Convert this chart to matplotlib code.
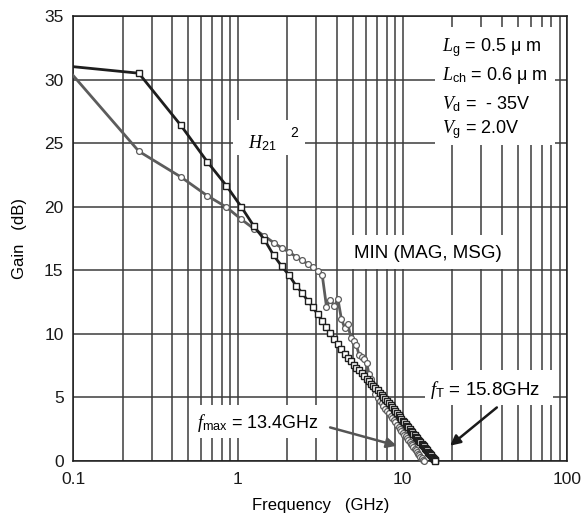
import matplotlib
matplotlib.use("Agg")
import matplotlib.pyplot as plt
from matplotlib.patches import Rectangle
from matplotlib.ticker import FixedLocator, NullFormatter

plt.rcParams['font.family'] = ['Liberation Sans', 'DejaVu Sans']
plt.rcParams['mathtext.fontset'] = 'custom'
plt.rcParams['mathtext.rm'] = 'Liberation Sans'
plt.rcParams['mathtext.it'] = 'Liberation Serif:italic'

# measured frequency points (GHz), 0.2 GHz step
freq = [0.05, 0.25, 0.45, 0.65, 0.85, 1.05, 1.25, 1.45, 1.65, 1.85,
        2.05, 2.25, 2.45, 2.65, 2.85, 3.05, 3.25, 3.45, 3.65, 3.85,
        4.05, 4.25, 4.45, 4.65, 4.85, 5.05, 5.25, 5.45, 5.65, 5.85,
        6.05, 6.25, 6.45, 6.65, 6.85, 7.05, 7.25, 7.45, 7.65, 7.85,
        8.05, 8.25, 8.45, 8.65, 8.85, 9.05, 9.25, 9.45, 9.65, 9.85,
        10.05, 10.25, 10.45, 10.65, 10.85, 11.05, 11.25, 11.45, 11.65, 11.85,
        12.05, 12.25, 12.45, 12.65, 12.85, 13.05, 13.25, 13.45, 13.65, 13.85,
        14.05, 14.25, 14.45, 14.65, 14.85, 15.05, 15.25, 15.45, 15.65, 15.85]

# |H21|^2 (dB)
gain_h21 = [31.4, 30.5, 26.4, 23.55, 21.66, 19.97, 18.47, 17.4, 16.17, 15.3,
            14.59, 13.8, 13.23, 12.62, 12.1, 11.54, 11.02, 10.52, 10.06, 9.62,
            9.20, 8.80, 8.42, 8.08, 7.83, 7.58, 7.35, 7.12, 6.90, 6.69,
            6.48, 6.29, 6.09, 5.91, 5.73, 5.55, 5.38, 5.22, 5.06, 4.90,
            4.75, 4.57, 4.40, 4.24, 4.08, 3.92, 3.77, 3.62, 3.47, 3.33,
            3.18, 3.05, 2.91, 2.78, 2.65, 2.52, 2.39, 2.27, 2.15, 2.03,
            1.91, 1.79, 1.68, 1.57, 1.46, 1.35, 1.24, 1.14, 1.03, 0.93,
            0.83, 0.73, 0.63, 0.53, 0.44, 0.34, 0.25, 0.16, 0.07, -0.02]

# MIN(MAG, MSG) (dB), stops at fmax
gain_min = [34.8, 24.36, 22.34, 20.87, 19.97, 19.0, 18.27, 17.69, 17.17, 16.74,
            16.43, 16.06, 15.77, 15.51, 15.22, 14.93, 14.65, 12.15, 12.67, 12.20,
            12.72, 11.18, 10.47, 10.78, 9.70, 9.40, 9.10, 8.30, 8.20, 8.00,
            7.72, 6.85, 6.45, 6.00, 5.30, 4.95, 4.74, 4.53, 4.32, 4.12,
            3.93, 3.74, 3.56, 3.38, 3.20, 3.03, 2.86, 2.70, 2.54, 2.38,
            2.22, 2.07, 1.93, 1.78, 1.64, 1.49, 1.36, 1.22, 1.09, 0.96,
            0.83, 0.70, 0.58, 0.46, 0.34, 0.22, 0.10, -0.02]
freq_min = freq[:len(gain_min)]

x_ticks = [0.1, 1, 10, 100]
x_tick_labels = ["0.1", "1", "10", "100"]
y_ticks = [0, 5, 10, 15, 20, 25, 30, 35]

fig = plt.figure(figsize=(5.87, 5.21), dpi=100)
ax = fig.add_axes([0.1249, 0.1152, 0.8413, 0.8541])
ax.set_xscale('log')
ax.set_xlim(0.1, 100)
ax.set_ylim(0, 35)

ax.set_xticks(x_ticks)
ax.set_xticklabels(x_tick_labels)
minor = [m * d for d in (0.1, 1, 10) for m in range(2, 10)]
ax.xaxis.set_minor_locator(FixedLocator(minor))
ax.xaxis.set_minor_formatter(NullFormatter())
ax.set_yticks(y_ticks)
ax.tick_params(axis='both', which='both', length=0, labelsize=12.5, colors='#1a1a1a')
ax.tick_params(axis='x', pad=8)
ax.tick_params(axis='y', pad=7)
ax.set_axisbelow(True)
ax.grid(True, which='both', color='#3c3c3c', linewidth=1.1)
for s in ax.spines.values():
    s.set_color('#1a1a1a')
    s.set_linewidth(1.1)

ax.set_xlabel("Frequency   (GHz)", fontsize=12, labelpad=8)
ax.set_ylabel("Gain   (dB)", fontsize=12, labelpad=12)

# white label boxes over the grid
boxes = [(0.733, 0.710, 0.243, 0.265),
         (0.324, 0.688, 0.146, 0.078),
         (0.557, 0.432, 0.322, 0.076),
         (0.241, 0.052, 0.263, 0.074),
         (0.713, 0.126, 0.259, 0.078)]
for bx, by, bw, bh in boxes:
    ax.add_patch(Rectangle((bx, by), bw, bh, transform=ax.transAxes,
                           facecolor='white', edgecolor='none', zorder=1))

# curves
ax.plot(freq_min, gain_min, color='#5c5c5c', linewidth=2.0, zorder=3)
ax.plot(freq_min[1:], gain_min[1:], linestyle='none', marker='o', markersize=4.2,
        markerfacecolor='white', markeredgecolor='#5c5c5c', markeredgewidth=0.9,
        zorder=3, clip_on=False)
ax.plot(freq, gain_h21, color='#1e1e1e', linewidth=2.0, zorder=4)
ax.plot(freq[1:], gain_h21[1:], linestyle='none', marker='s', markersize=4.8,
        markerfacecolor='white', markeredgecolor='#1e1e1e', markeredgewidth=1.0,
        zorder=4, clip_on=False)

# annotations
ax.text(1.155, 25.0, r'$H_{\rm 21}$', fontsize=13, ha='left', va='center', zorder=5)
ax.text(2.08, 25.78, '2', fontsize=10, ha='left', va='center', zorder=5)
ax.text(0.566, 2.95, r'$f_{\rm max}$ = 13.4GHz', fontsize=13, ha='left', va='center', zorder=5)
ax.text(14.7, 5.6, r'$f_{\rm T}$ = 15.8GHz', fontsize=13.5, ha='left', va='center', zorder=5)
ax.text(0.7176, 0.466, 'MIN (MAG, MSG)', fontsize=13.5, ha='center', va='center',
        transform=ax.transAxes, zorder=5)

params = [r'$L_{\rm g}$ = 0.5 μ m', r'$L_{\rm ch}$ = 0.6 μ m',
          r'$V_{\rm d}$ =  - 35V', r'$V_{\rm g}$ = 2.0V']
param_y = [32.5, 30.3, 28.1, 26.05]
for txt, yy in zip(params, param_y):
    ax.text(17.4, yy, txt, fontsize=13, ha='left', va='center', zorder=5)

ax.annotate('', xy=(9.23, 1.2), xytext=(3.63, 2.64),
            arrowprops=dict(arrowstyle='-|>', color='#555555', lw=1.8,
                            mutation_scale=15, shrinkA=0, shrinkB=0), zorder=5)
ax.annotate('', xy=(19.45, 1.2), xytext=(37.4, 4.21),
            arrowprops=dict(arrowstyle='-|>', color='#1a1a1a', lw=1.8,
                            mutation_scale=15, shrinkA=0, shrinkB=0), zorder=5)

fig.savefig("out.png", dpi=100)
